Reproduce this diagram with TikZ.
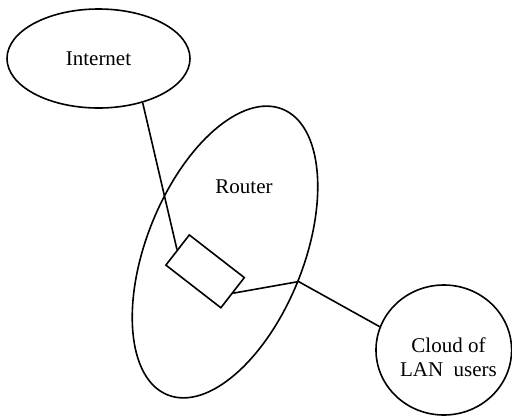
\documentclass[tikz,border=0pt]{standalone}
\usepackage{fontspec}
\setmainfont{Liberation Serif}
\usetikzlibrary{shapes.geometric}
\begin{document}
\begin{tikzpicture}[x=1pt,y=-1pt,
  every path/.style={line width=1.6pt},
  lbl/.style={font=\fontsize{21}{24.3}\selectfont, inner sep=0pt, align=center},
  oval/.style={draw, ellipse, inner sep=0pt, line width=1.6pt},
  box/.style={draw, rectangle, inner sep=0pt, line width=1.6pt}]
\useasboundingbox (0,0) rectangle (512,416);
\node[oval, minimum width=183pt, minimum height=99pt, lbl] (internet) at (98.5,58.5) {Internet};
\node[oval, minimum width=157pt, minimum height=308pt, rotate=-21.9] (router) at (225,252) {};
\node[lbl] (routertext) at (244,187) {Router};
\node[box, minimum width=69.6pt, minimum height=38.2pt, rotate=-37.8] (rect) at (205.1,271.35) {};
\node[oval, minimum width=135.6pt, minimum height=130pt] (cloud) at (443.8,350) {};
\node[lbl] (cloudtext) at (448.5,357) {Cloud of\\LAN\ \ users};
\draw (internet.-45.7) -- (rect.west);
\draw (rect.east) -- (router.east) -- (cloud.160);
\end{tikzpicture}
\end{document}
